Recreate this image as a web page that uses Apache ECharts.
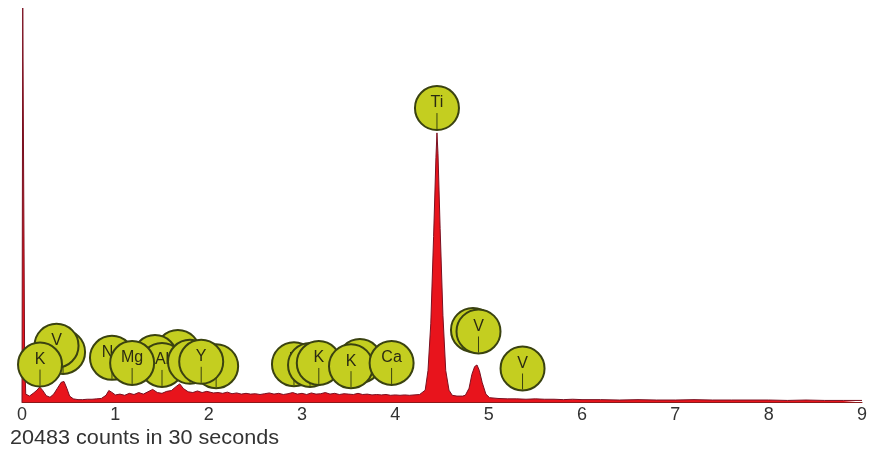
<!DOCTYPE html>
<html><head><meta charset="utf-8">
<script src="https://cdn.jsdelivr.net/npm/echarts@6/dist/echarts.min.js"></script>
<style>html,body{margin:0;padding:0;background:#fff}#c{width:875px;height:454px}</style>
</head><body><div id="c"></div>
<script>
// Spectrum (energy in keV, relative counts where 100 = top of the zero-energy spike)
const energy = [0.000,0.008,0.020,0.028,0.040,0.08,0.12,0.16,0.19,0.22,0.26,0.30,0.34,0.38,0.42,0.45,0.48,0.51,0.55,0.60,0.65,0.70,0.75,0.80,0.85,0.90,0.93,0.96,1.00,1.05,1.10,1.15,1.20,1.25,1.30,1.35,1.40,1.45,1.50,1.55,1.60,1.65,1.69,1.73,1.78,1.83,1.88,1.93,1.98,2.05,2.10,2.15,2.20,2.25,2.30,2.35,2.40,2.45,2.50,2.55,2.60,2.65,2.70,2.75,2.80,2.85,2.90,2.95,3.00,3.05,3.10,3.15,3.20,3.25,3.30,3.35,3.40,3.45,3.50,3.55,3.60,3.65,3.70,3.75,3.80,3.85,3.90,3.95,4.00,4.05,4.10,4.15,4.20,4.26,4.32,4.35,4.38,4.41,4.435,4.446,4.457,4.48,4.51,4.54,4.575,4.61,4.66,4.72,4.75,4.79,4.82,4.85,4.875,4.90,4.93,4.97,5.01,5.10,5.20,5.30,5.40,5.50,5.60,5.70,5.80,5.90,6.00,6.20,6.40,6.60,6.80,7.00,7.20,7.40,7.60,7.80,8.00,8.20,8.40,8.60,8.80,9.00];
const counts = [0,100,100,12,2,1.5,2.2,3.0,3.8,3.0,1.6,1.2,2.0,3.5,5.0,5.2,3.5,1.5,0.8,0.6,0.6,0.7,0.7,0.8,0.9,1.7,2.9,2.5,1.8,2.0,1.7,2.2,1.9,2.4,2.0,2.6,3.2,2.4,2.2,2.7,2.9,3.9,4.6,3.4,2.6,2.4,2.8,2.4,2.7,2.3,2.4,2.2,2.5,2.1,2.3,2.0,2.2,2.0,2.1,1.9,2.1,2.3,2.0,2.2,1.9,2.1,2.4,2.0,2.2,1.9,2.3,2.0,2.1,2.4,2.0,2.2,1.9,2.1,2.0,1.9,2.2,1.9,2.0,1.8,1.9,1.8,1.9,1.7,1.8,1.7,1.8,1.7,1.8,1.9,3,8,20,42,62,68.3,63,44,22,8,3,1.7,1.5,1.5,1.7,3.5,7,9.0,9.4,8,5,2,1.1,0.9,0.8,0.8,0.7,0.8,0.7,0.7,0.6,0.7,0.6,0.6,0.5,0.6,0.5,0.5,0.6,0.5,0.5,0.5,0.5,0.4,0.5,0.4,0.4,0.4];

// Element marker circles (back to front); '' where the label is hidden behind other circles
const peakLabels = ['V','V','K','Na','','','Al','Mg','P','Y','Y','K','K','K','','K','Ca','Ti','V','V','V'];
const peakEnergy = [0.44,0.37,0.193,0.964,1.67,1.425,1.50,1.18,2.08,1.80,1.92,2.914,3.086,3.18,3.62,3.525,3.96,4.446,4.832,4.891,5.363];
const peakHeight = [12.7,14.3,9.5,11.2,12.7,11.4,9.4,9.9,9.1,10.2,10.2,9.6,9.4,9.9,10.4,9.1,9.9,74.6,18.3,17.9,8.5];

const tickLabels = ['0','1','2','3','4','5','6','7','8','9'];
const caption = '20483 counts in 30 seconds';

const chart = echarts.init(document.getElementById('c'));
chart.setOption({
  animation: false,
  backgroundColor: '#ffffff',
  grid: {left: 22, right: 13, top: 8, bottom: 52},
  xAxis: {
    type: 'value', min: 0, max: 9, interval: 1,
    axisLine: {show: true, lineStyle: {color: '#8a1a1a', width: 1}},
    axisTick: {show: false}, splitLine: {show: false},
    axisLabel: {fontSize: 18, color: '#333', margin: 4, fontFamily: '"Liberation Sans", Arial, sans-serif',
      formatter: v => tickLabels[Math.round(v)] ?? ''}
  },
  yAxis: {type: 'value', min: 0, max: 100, show: false},
  graphic: [{
    type: 'text', left: 10, top: 428, scaleX: 1.08,
    style: {text: caption, font: '20px "Liberation Sans", Arial, sans-serif', fill: '#333'}
  }],
  series: [
    {
      type: 'line', data: energy.map((e, i) => [e, counts[i]]),
      showSymbol: false, smooth: false, z: 2,
      lineStyle: {color: '#7a1020', width: 1},
      areaStyle: {color: '#e8141c', opacity: 1}
    },
    {
      type: 'custom', z: 5, clip: false,
      data: peakEnergy.map((e, i) => [e, peakHeight[i]]),
      renderItem: function (params, api) {
        const p = api.coord([api.value(0), api.value(1)]);
        const r = 22, i = params.dataIndex;
        return {
          type: 'group', children: [
            {type: 'circle', z2: i * 3, shape: {cx: p[0], cy: p[1], r: r},
              style: {fill: '#c4ce20', stroke: '#3a4210', lineWidth: 2}},
            {type: 'text', z2: i * 3 + 1,
              style: {text: peakLabels[i], x: p[0], y: p[1] - 5, align: 'center', verticalAlign: 'middle',
                textAlign: 'center', textVerticalAlign: 'middle',
                font: '16px "Liberation Sans", Arial, sans-serif', fill: '#2b2b12'}},
            {type: 'line', z2: i * 3 + 2, shape: {x1: p[0], y1: p[1] + 5, x2: p[0], y2: p[1] + r - 1},
              style: {stroke: '#3a4210', lineWidth: 1}}
          ]
        };
      }
    }
  ]
});
</script>
</body></html>
